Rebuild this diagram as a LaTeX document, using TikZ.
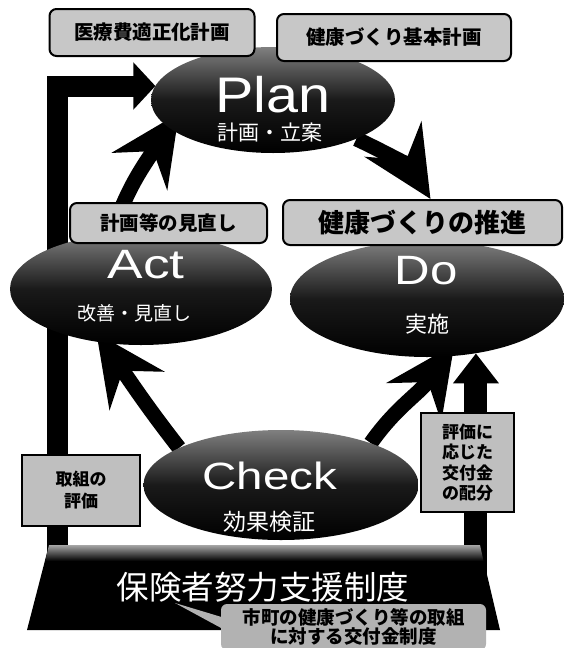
\documentclass[tikz,border=0pt]{standalone}
\usepackage{fontspec}
\usepackage{graphicx}
\newfontfamily\jp{Noto Sans CJK JP}
\newfontfamily\lat{Liberation Sans}
\usetikzlibrary{arrows.meta,shapes.geometric,calc}
\pgfdeclarelayer{bg}
\pgfsetlayers{bg,main}
\tikzset{
 lab/.style={draw=black, line width=2pt, fill=black!22, rounded corners=7pt, inner sep=0pt},
 sqlab/.style={draw=black, line width=2.2pt, fill=black!25, inner sep=0pt, align=center},
 phase/.style={ellipse, inner sep=0pt, top color=black!50, bottom color=black, middle color=black!90},
 big/.style={text=white, inner sep=0pt},
 sub/.style={text=white, inner sep=0pt},
 cyc/.style={line width=15pt, -{Stealth[length=70pt,width=66pt,inset=24pt]}},
}
\begin{document}
\begin{tikzpicture}[x=1pt,y=1pt]
\useasboundingbox (0,0) rectangle (563,-648);
% phases
\node[phase, minimum width=244, minimum height=106] (plan) at (273,-100) {};
\node[phase, minimum width=262, minimum height=112] (act) at (141,-289) {};
\node[phase, minimum width=274, minimum height=116] (do) at (427,-299) {};
\node[phase, minimum width=275, minimum height=110] (check) at (281,-485) {};
% big words
\node[big, font=\lat\fontsize{50}{50}\selectfont] (plant) at (273,-95) {\scalebox{1.15}[1]{Plan}};
\node[sub, font=\jp\fontsize{21}{21}\selectfont] (plans) at (270,-133) {計画・立案};
\node[big, font=\lat\fontsize{41}{41}\selectfont] (actt) at (146,-265) {\scalebox{1.3}[1]{Act}};
\node[sub, font=\jp\fontsize{19}{19}\selectfont] (acts) at (134,-313) {改善・見直し};
\node[big, font=\lat\fontsize{41}{41}\selectfont] (dot) at (426,-271) {\scalebox{1.2}[1]{Do}};
\node[sub, font=\jp\fontsize{22}{22}\selectfont] (dos) at (427,-324) {実施};
\node[big, font=\lat\fontsize{38}{38}\selectfont] (checkt) at (270,-476) {\scalebox{1.25}[1]{Check}};
\node[sub, font=\jp\fontsize{23}{23}\selectfont] (checks) at (269,-522) {効果検証};
% labels
\node[lab, minimum width=205, minimum height=47, font=\jp\bfseries\fontsize{19.5}{20}\selectfont] (lab1) at (152,-32.5) {医療費適正化計画};
\node[lab, minimum width=234, minimum height=47, font=\jp\bfseries\fontsize{19.5}{20}\selectfont] (lab2) at (394,-37.5) {健康づくり基本計画};
\node[lab, minimum width=197, minimum height=40, font=\jp\bfseries\fontsize{19.5}{20}\selectfont] (actlab) at (168.5,-223) {計画等の見直し};
\node[lab, minimum width=279, minimum height=45, font=\jp\bfseries\fontsize{26}{26}\selectfont] (dolab) at (422.5,-222.5) {健康づくりの推進};
\node[sqlab, minimum width=118, minimum height=71, font=\jp\bfseries\fontsize{17}{22}\selectfont] (evalbox) at (81,-490.5) {取組の\\評価};
\node[sqlab, minimum width=93, minimum height=99, font=\jp\bfseries\fontsize{17}{20.5}\selectfont] (grantbox) at (467.5,-462.5) {評価に\\応じた\\交付金\\の配分};
% base
\fill[black] (49,-545) -- (480,-545) -- (500,-630) -- (27,-630) -- cycle;
\shade[top color=black!35, bottom color=black] (49,-545) -- (480,-545) -- (483.5,-561) -- (45.2,-561) -- cycle;
\node[text=white, inner sep=0pt, font=\jp\fontsize{32.5}{33}\selectfont] (base) at (263,-587) {保険者努力支援制度};
% callout
\coordinate (tail) at (175,-603);
\node[fill=black!30, rounded corners=6pt, minimum width=265, minimum height=46, inner sep=0pt, align=center, font=\jp\bfseries\fontsize{18.5}{19}\selectfont] (callout) at (353.5,-627) {市町の健康づくり等の取組\\に対する交付金制度};
\fill[black!30] (tail) -- ($(callout.west)+(4,9)$) -- ($(callout.west)+(4,-3)$) -- cycle;
% arrows behind
\begin{pgfonlayer}{bg}
\coordinate (lcorner) at (57,-86);
\draw[line width=21pt, line join=miter, -{Triangle[length=22pt,width=46pt]}] (lcorner |- base.center) -- (lcorner) -- (lcorner -| plan.173);
\draw[line width=23pt, -{Triangle[length=30pt,width=44pt]}] (do.-48 |- base.center) -- (do.-48);
\draw[cyc, shorten >=-18pt] (act.118) to[out=72,in=236] (plan.195);
\draw[cyc] (plan.-25) to[out=-25,in=122] ([xshift=8pt]dolab.north);
\draw[cyc, shorten >=-12pt] (check.160) to[out=128,in=-55] (act.235);
\draw[cyc, shorten >=-15pt] (check.25) to[out=55,in=235] (do.-72);
\end{pgfonlayer}
\end{tikzpicture}
\end{document}
